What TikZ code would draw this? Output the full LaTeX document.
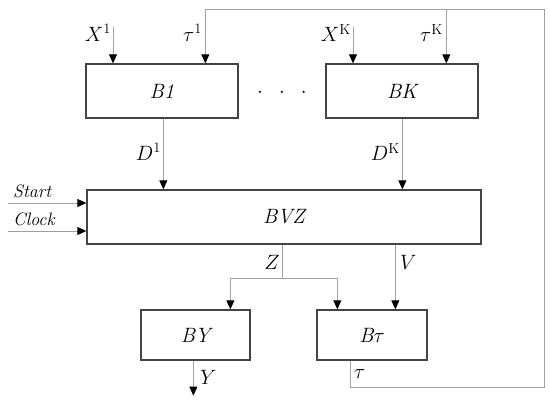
\documentclass[tikz,border=0pt]{standalone}
\usetikzlibrary{arrows.meta, positioning, calc}
\definecolor{bzEdge}{HTML}{444444}
\definecolor{bzWire}{HTML}{A0A0A0}
\tikzset{
  bzbox/.style={rectangle, draw=bzEdge, line width=1.3pt, fill=white,
    minimum height=54pt, minimum width=152pt, inner sep=0pt,
    font=\huge\itshape},
  bzarrow/.style={-{Triangle[length=9pt,width=8pt,color=black]}, line width=0.9pt, bzWire},
  bzwire/.style={line width=0.9pt, bzWire},
  bzlabel/.style={font=\huge, inner sep=1pt},
  bzside/.style={font=\fontsize{18}{21}\selectfont\itshape, inner sep=1pt, anchor=south west}
}
\begin{document}
\begin{tikzpicture}[x=1pt, y=-1pt]
  \useasboundingbox (0,0) rectangle (550,402);
  % blocks
  \node[bzbox] (B1) at (162,91) {B1};
  \node[bzbox] (BK) at (402,91) {BK};
  \node[bzlabel] (dots) at (282,93) {$\cdot\;\;\cdot\;\;\cdot$};
  \node[bzbox, minimum width=394pt] (BVZ) at (284,217) {BVZ};
  \node[bzbox, minimum width=109pt, minimum height=50pt] (BY) at (195.5,335) {BY};
  \node[bzbox, minimum width=110pt, minimum height=50pt] (Bt) at (372,335) {\textit{B}$\tau$};

  % inputs of B1 and BK
  \coordinate (x1) at (113,27);
  \coordinate (xK) at (353,27);
  \draw[bzarrow] (x1) -- (x1 |- B1.north);
  \draw[bzarrow] (xK) -- (xK |- BK.north);
  \node[bzlabel, anchor=east] (lx1) at (112,33) {$X^{1}$};
  \node[bzlabel, anchor=east] (lt1) at (203,33) {$\tau^{1}$};
  \node[bzlabel, anchor=east] (lxK) at (352,33) {$X^{\mathrm{K}}$};
  \node[bzlabel, anchor=east] (ltK) at (444,33) {$\tau^{\mathrm{K}}$};

  % outputs D
  \coordinate (d1) at ($(B1.south west)+(78,0)$);
  \coordinate (dK) at ($(BK.south west)+(77,0)$);
  \draw[bzarrow] (d1) -- (d1 |- BVZ.north);
  \draw[bzarrow] (dK) -- (dK |- BVZ.north);
  \node[bzlabel, anchor=east] (ld1) at (162,152) {$D^{1}$};
  \node[bzlabel, anchor=east] (ldK) at (401,152) {$D^{\mathrm{K}}$};

  % Start / Clock
  \coordinate (st) at (8,203);
  \coordinate (cl) at (8,231);
  \draw[bzarrow] (st) -- (st -| BVZ.west);
  \draw[bzarrow] (cl) -- (cl -| BVZ.west);
  \node[bzside] (lst) at (12,199) {Start};
  \node[bzside] (lcl) at (12,227) {Clock};

  % Z and V
  \coordinate (zs) at ($(BVZ.south west)+(196,0)$);
  \coordinate (zb) at ($(zs)+(0,34)$);
  \draw[bzwire] (zs) -- (zb);
  \draw[bzarrow] (zb) -| ($(BY.north west)+(90,0)$);
  \draw[bzarrow] (zb) -| ($(Bt.north west)+(21,0)$);
  \coordinate (vs) at ($(BVZ.south west)+(309,0)$);
  \draw[bzarrow] (vs) -- (vs |- Bt.north);
  \node[bzlabel, anchor=east] (lz) at (281,262) {$Z$};
  \node[bzlabel, anchor=west] (lv) at (399,262) {$V$};

  % output Y
  \coordinate (yo) at ($(BY.south west)+(53,35)$);
  \draw[bzarrow] (yo |- BY.south) -- (yo);
  \node[bzlabel, anchor=west] (ly) at (199,377) {$Y$};

  % feedback tau
  \coordinate (fb) at (544,9);
  \coordinate (fbl) at (544,387);
  \coordinate (tK) at ($(BK.north west)+(121,0)$);
  \draw[bzwire] ($(Bt.south west)+(34,0)$) |- (fbl) -- (fb);
  \draw[bzarrow] (fb) -| ($(B1.north west)+(120,0)$);
  \draw[bzarrow] (tK |- fb) -- (tK);
  \node[bzlabel, anchor=west] (lt) at (353,374) {$\tau$};
\end{tikzpicture}
\end{document}
